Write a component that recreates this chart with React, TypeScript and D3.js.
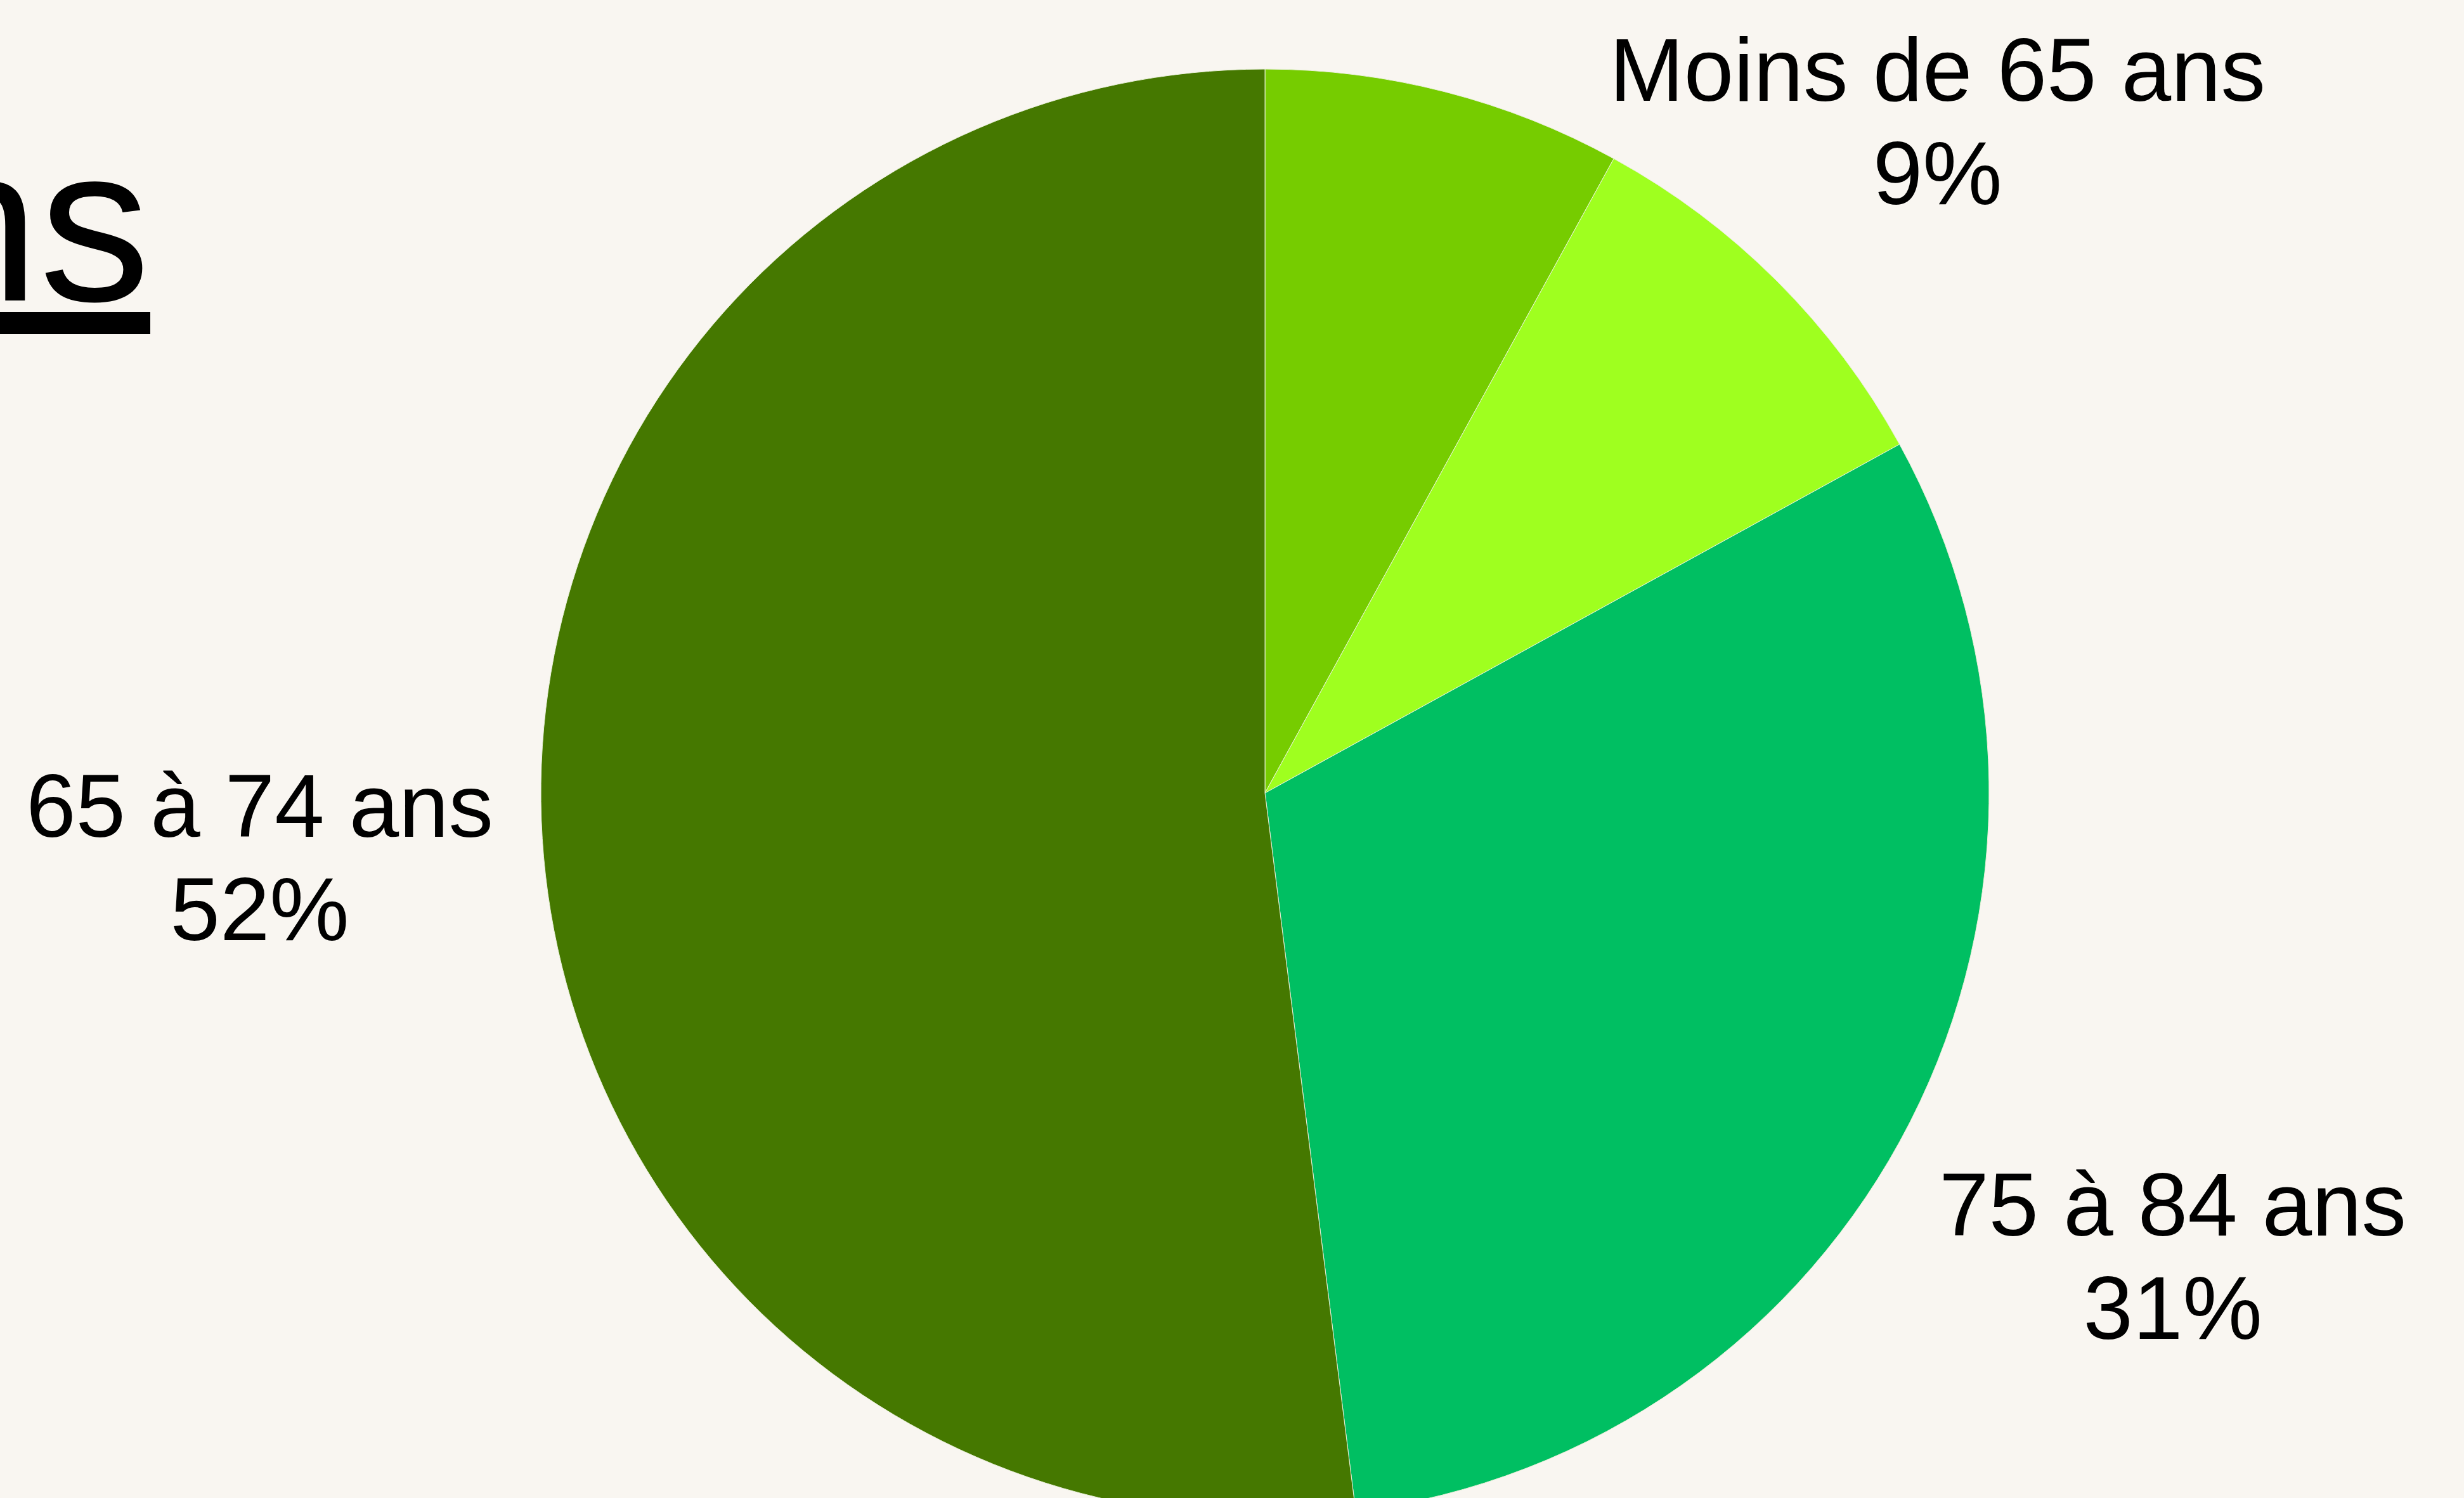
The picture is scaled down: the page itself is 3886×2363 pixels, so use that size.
import React, { useEffect } from "react";
import * as d3 from "d3";

const categories = ["85 ans et plus", "Moins de 65 ans", "75 à 84 ans", "65 à 74 ans"];
const shares = [8, 9, 31, 52];
const sliceColors = ["#76CC00", "#9FFF1F", "#00BF62", "#457800"];
const titleText = "Répartition par âge des citoyens";

const W = 3886;
const H = 2363;
const BG = "#F9F6F1";
const CX = 1995;
const CY = 1251;
const R = 1142;
// distance of each label block centre from the pie centre, as a fraction of the radius
const labelDist = [1.4, 1.3135, 1.407, 1.391];
const FONT = "'Liberation Sans', Arial, Helvetica, sans-serif";
const LABEL_SIZE = 141;
const LINE_GAP = 163;
const CAP = 101;

export default function App() {
  useEffect(() => {
    document.body.style.margin = "0";
    document.body.style.overflow = "hidden";
    document.body.style.background = BG;
  }, []);

  const pie = d3
    .pie<number>()
    .sort(null)
    .value((d) => d)
    .startAngle(0)
    .endAngle(2 * Math.PI);
  const arcs = pie(shares);
  const arc = d3.arc<d3.PieArcDatum<number>>().innerRadius(0).outerRadius(R);
  const total = d3.sum(shares);

  return (
    <svg
      width={W}
      height={H}
      viewBox={`0 0 ${W} ${H}`}
      style={{ position: "absolute", left: 0, top: 0, display: "block" }}
    >
      <rect x={0} y={0} width={W} height={H} fill={BG} />
      <text
        x={237}
        y={474}
        textAnchor="end"
        fontFamily={FONT}
        fontSize={350}
        fill="#000"
        style={{ textDecoration: "underline" }}
      >
        {titleText}
      </text>
      <g transform={`translate(${CX},${CY})`}>
        {arcs.map((a, i) => (
          <path
            key={categories[i]}
            d={arc(a) || ""}
            fill={sliceColors[i]}
            stroke="#E8F0D8"
            strokeWidth={1}
          />
        ))}
        {arcs.map((a, i) => {
          const d = labelDist[i] * R;
          const lab = d3.arc<d3.PieArcDatum<number>>().innerRadius(d).outerRadius(d);
          const [lx, ly] = lab.centroid(a);
          const blockH = CAP + LINE_GAP;
          const y1 = ly - blockH / 2 + CAP;
          // the label of the first slice falls entirely above the visible frame
          if (CY + y1 + LINE_GAP < 0) return null;
          const pct = Math.round((a.value / total) * 100) + "%";
          return (
            <text
              key={"l" + i}
              x={lx}
              textAnchor="middle"
              fontFamily={FONT}
              fontSize={LABEL_SIZE}
              fill="#000"
            >
              <tspan x={lx} y={y1}>
                {categories[i]}
              </tspan>
              <tspan x={lx} y={y1 + LINE_GAP}>
                {pct}
              </tspan>
            </text>
          );
        })}
      </g>
    </svg>
  );
}
